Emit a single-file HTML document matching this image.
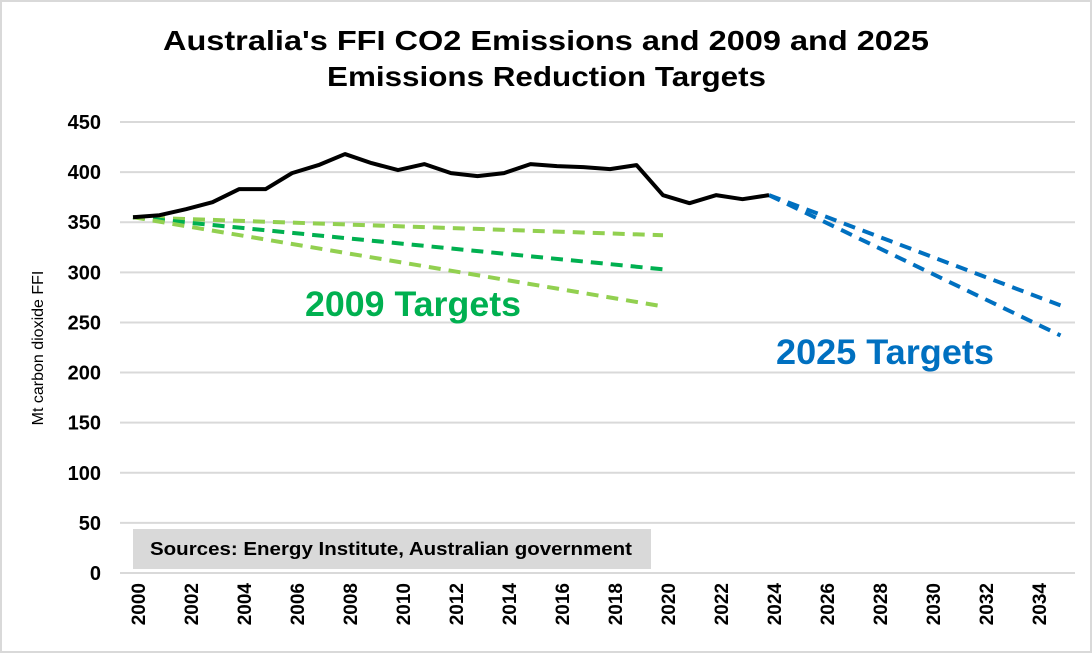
<!DOCTYPE html>
<html><head><meta charset="utf-8"><style>
body{margin:0;background:#fff}
svg{display:block;font-family:"Gill Sans","Liberation Sans",sans-serif}
</style></head><body>
<svg width="1092" height="653" viewBox="0 0 1092 653">
<rect x="1" y="1" width="1090" height="651" fill="#fff" stroke="#d9d9d9" stroke-width="2"/>
<text x="163" y="50" textLength="766" lengthAdjust="spacingAndGlyphs" font-size="28" font-weight="bold">Australia's FFI CO2 Emissions and 2009 and 2025</text>
<text x="327" y="86" textLength="439" lengthAdjust="spacingAndGlyphs" font-size="28" font-weight="bold">Emissions Reduction Targets</text>
<g id="grid"></g><g id="ylabels"></g><g id="xlabels"></g>
<rect x="133" y="529" width="518" height="40" fill="#d9d9d9"/>
<text x="150" y="555" textLength="482" lengthAdjust="spacingAndGlyphs" font-size="18" font-weight="bold">Sources: Energy Institute, Australian government</text>
<g id="series"></g>
<text x="305" y="316" textLength="216" lengthAdjust="spacingAndGlyphs" font-size="35" font-weight="bold" fill="#00b050">2009 Targets</text>
<text x="776" y="364" textLength="218" lengthAdjust="spacingAndGlyphs" font-size="35" font-weight="bold" fill="#0070c0">2025 Targets</text>
<text transform="translate(43,348) rotate(-90)" text-anchor="middle" font-size="16">Mt carbon dioxide FFI</text>
</svg>
<script>
const years=[2000,2001,2002,2003,2004,2005,2006,2007,2008,2009,2010,2011,2012,2013,2014,2015,2016,2017,2018,2019,2020,2021,2022,2023,2024];
const emissions=[355,357,363,370,383,383,399,407,418,409,402,408,399,396,399,408,406,405,403,407,377,369,377,373,377];
const target2009High=[[2000,355],[2020,337]];
const target2009Mid=[[2000,355],[2020,303]];
const target2009Low=[[2000,355],[2020,266]];
const target2025A=[[2024,377],[2035,267]];
const target2025B=[[2024,377],[2035,237]];
const yTicks=[0,50,100,150,200,250,300,350,400,450];
const xTickYears=[2000,2002,2004,2006,2008,2010,2012,2014,2016,2018,2020,2022,2024,2026,2028,2030,2032,2034];
const NS="http://www.w3.org/2000/svg";
const X=y=>133+(y-2000)*26.5;
const Y=v=>573-v*451/450;
function mk(tag,attrs,parent){const e=document.createElementNS(NS,tag);for(const k in attrs)e.setAttribute(k,attrs[k]);document.getElementById(parent).appendChild(e);return e;}
yTicks.forEach(t=>{
  const l=mk('line',{x1:120,x2:1075,y1:Y(t),y2:Y(t),stroke:'#d9d9d9','stroke-width':2},'grid');
  
  
  const tx=mk('text',{x:101,y:Y(t)+7,'text-anchor':'end','font-size':20,'font-weight':'bold'},'ylabels');
  tx.textContent=t;
  
  
});
xTickYears.forEach(yr=>{
  const tx=mk('text',{transform:`translate(${X(yr)+12},583) rotate(-90)`,'text-anchor':'end','font-size':19,'font-weight':'bold'},'xlabels');
  tx.textContent=yr;
  
  
});
function line(pts,color,dash,name){
  const p=mk('polyline',{points:pts.map(d=>X(d[0])+','+Y(d[1])).join(' '),fill:'none',stroke:color,'stroke-width':4,'stroke-linejoin':'round','stroke-dasharray':dash||'none'},'series');
  
  
}
line(target2009High,'#92d050','12 8','target-2009-high');
line(target2009Mid,'#00b050','12 8','target-2009-mid');
line(target2009Low,'#92d050','12 8','target-2009-low');
line(target2025A,'#0070c0','12 8','target-2025-a');
line(target2025B,'#0070c0','12 8','target-2025-b');
line(years.map((y,i)=>[y,emissions[i]]),'#000','','emissions-line');
</script>
</body></html>
